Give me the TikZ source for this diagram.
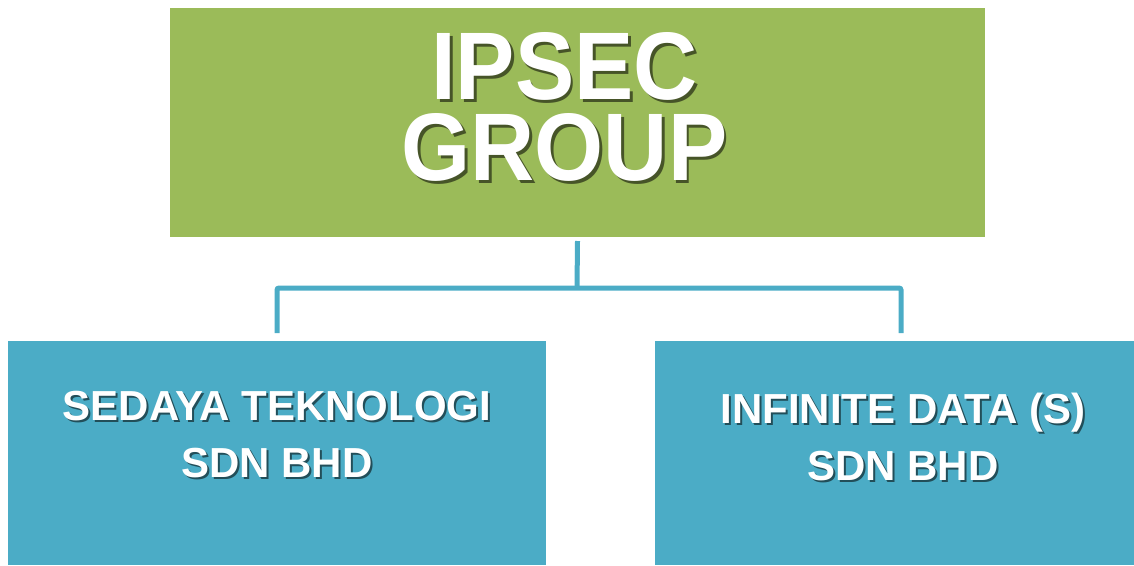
\documentclass[tikz,border=0pt]{standalone}
\usepackage{fontspec}
\setmainfont{Liberation Sans}
\usepackage{graphicx}
\definecolor{grn}{HTML}{9BBB59}
\definecolor{blu}{HTML}{4BACC6}
\colorlet{grnsh}{grn!45!black}
\colorlet{blush}{blu!45!black}
\newcommand\shd[3]{\rlap{\kern#3\raisebox{-#3}{\color{#1}#2}}#2}
\newcommand\bigline[1]{\scalebox{0.925}[1]{\shd{grnsh}{#1}{3pt}}}
\newcommand\smline[1]{\shd{blush}{#1}{2pt}}
\begin{document}
\begin{tikzpicture}[x=1pt,y=-1pt,
  box/.style={draw=none,inner sep=0pt,outer sep=0pt},
  conn/.style={draw=blu,line width=5pt,rounded corners=2pt},
  big/.style={font=\fontsize{96}{81}\selectfont\bfseries,text=white,inner sep=0pt,align=center,anchor=north},
  small/.style={font=\fontsize{42}{57}\selectfont\bfseries,text=white,inner sep=0pt,align=center,anchor=north}]
\useasboundingbox (0,0) rectangle (1134,565);
\node[box,fill=grn,minimum width=815pt,minimum height=229pt] (g) at (577.5,122.5) {};
\node[box,fill=blu,minimum width=538pt,minimum height=224pt] (a) at (277,453) {};
\node[box,fill=blu,minimum width=479pt,minimum height=224pt] (b) at (894.5,453) {};
\coordinate (j) at (577,288);
\draw[conn] ([yshift=-4pt]g.south) -- (j);
\draw[conn] ([yshift=8pt]a.north) |- (j) -| ([xshift=6.5pt,yshift=8pt]b.north);
\node[big] (t1) at (564.5,32) {\bigline{IPSEC}\\\bigline{GROUP}};
\node[small] (t2) at (277,391) {\smline{SEDAYA TEKNOLOGI}\\\smline{SDN BHD}};
\node[small] (t3) at (903,393) {\smline{INFINITE DATA (S)}\\\smline{SDN BHD}};
\end{tikzpicture}
\end{document}
